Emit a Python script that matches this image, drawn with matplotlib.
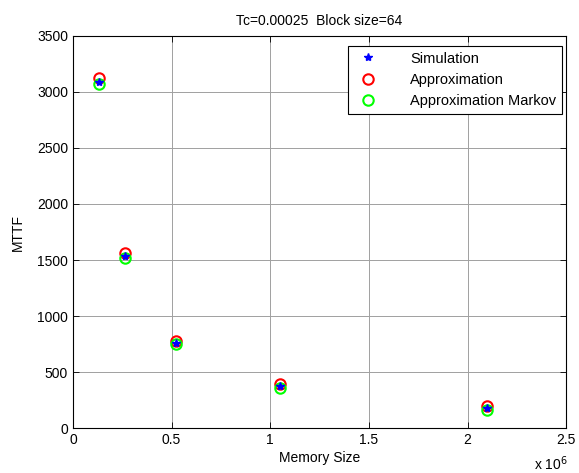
import matplotlib
matplotlib.use("Agg")
import matplotlib.pyplot as plt

# memory sizes (2^17 .. 2^21)
memory_size = [131072, 262144, 524288, 1048576, 2097152]
mttf_sim = [3085, 1536, 762, 372, 175]
mttf_approx = [3125, 1562.5, 781.25, 390.6, 195.3]
mttf_markov = [3075, 1522, 748, 360, 165]

plt.rcParams["font.family"] = ["Liberation Sans", "DejaVu Sans"]
plt.rcParams["font.size"] = 10

fig = plt.figure(figsize=(5.79, 4.73), dpi=100)
ax = fig.add_axes([0.126, 0.095, 0.852, 0.829])

ax.plot(memory_size, mttf_sim, linestyle="none", marker="*", color="blue",
        markersize=6, label="Simulation", zorder=4)
ax.plot(memory_size, mttf_approx, linestyle="none", marker="o", markerfacecolor="none",
        markeredgecolor="red", markeredgewidth=1.5, markersize=7.5, label="Approximation", zorder=2)
ax.plot(memory_size, mttf_markov, linestyle="none", marker="o", markerfacecolor="none",
        markeredgecolor="#00ff00", markeredgewidth=1.5, markersize=7.5,
        label="Approximation Markov", zorder=3)

ax.set_xlim(0, 2.5e6)
ax.set_ylim(0, 3500)
ax.set_xticks([0, 0.5e6, 1e6, 1.5e6, 2e6, 2.5e6])
ax.set_xticklabels(["0", "0.5", "1", "1.5", "2", "2.5"])
ax.set_yticks(range(0, 3501, 500))
ax.tick_params(direction="in", top=True, right=True, length=4, width=0.6, pad=3.5)
ax.grid(True, color="#a0a0a0", linewidth=0.7, linestyle="-")
ax.set_axisbelow(True)
for s in ax.spines.values():
    s.set_linewidth(0.8)

ax.set_xlabel("Memory Size", labelpad=3)
ax.set_ylabel("MTTF", labelpad=9)
ax.set_title("Tc=0.00025  Block size=64", fontsize=10, pad=8)
ax.text(1.004, -0.107, "x 10$^6$", transform=ax.transAxes, ha="right", va="baseline", fontsize=10)

leg = ax.legend(loc="upper right", bbox_to_anchor=(0.992, 0.975), borderaxespad=0,
                fancybox=False, edgecolor="black", framealpha=1,
                handlelength=2.0, handletextpad=1.9, labelspacing=0.5, fontsize=10.5)
leg.get_frame().set_linewidth(0.8)

fig.savefig("out.png", dpi=100)
